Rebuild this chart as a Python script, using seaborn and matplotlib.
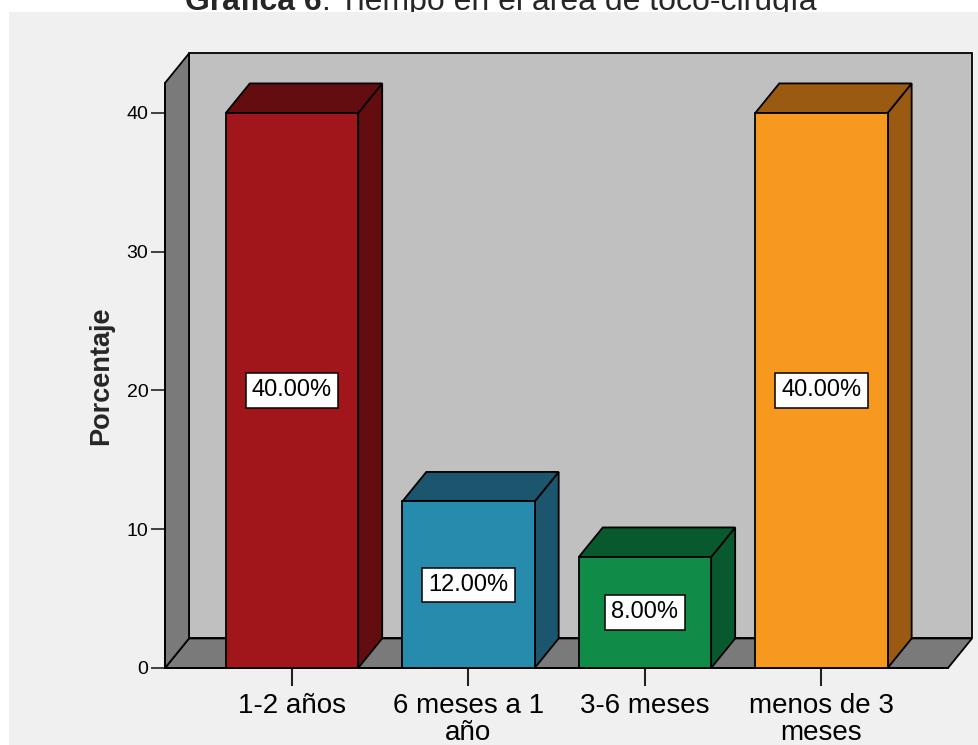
import matplotlib
matplotlib.use("Agg")
import matplotlib.pyplot as plt
from matplotlib.patches import Polygon, Rectangle
import seaborn as sns
import pandas as pd

# --- data -------------------------------------------------------------
categorias = ["1-2 años", "6 meses a 1 año", "3-6 meses", "menos de 3 meses"]
etiquetas_eje = ["1-2 años", "6 meses a 1\naño", "3-6 meses", "menos de 3\nmeses"]
porcentajes = [40.0, 12.0, 8.0, 40.0]
ticks_y = [0, 10, 20, 30, 40]
color_frente = ["#A0161A", "#268BAC", "#108C48", "#F7991F"]
color_sombra = ["#630D10", "#1B556E", "#085A2E", "#9A5A12"]
titulo_negrita = "Gráfica 6"
titulo_resto = ". Tiempo en el área de toco-cirugía"
eje_y = "Porcentaje"

sns.set_style("white")
plt.rcParams["font.family"] = ["Liberation Sans", "DejaVu Sans"]

W, H = 979, 745
fig = plt.figure(figsize=(W / 100, H / 100), dpi=100, facecolor="white")

# light gray chart panel
fig.patches.append(Rectangle((9 / W, 0), 1 - 9 / W, 1 - 12 / H,
                             transform=fig.transFigure, facecolor="#F0F0F0",
                             edgecolor="none", zorder=-1))

# plotting area (front plane of the 3D box)
px0, px1, py0, py1 = 165, 948, 83, 668
ax = fig.add_axes([px0 / W, (H - py1) / H, (px1 - px0) / W, (py1 - py0) / H])
ax.set_facecolor("none")

df = pd.DataFrame({"Tiempo": categorias, "Porcentaje": porcentajes})
sns.barplot(data=df, x="Tiempo", y="Porcentaje", hue="Tiempo",
            palette=color_frente, saturation=1, width=0.75,
            edgecolor="black", linewidth=1.3, legend=False, ax=ax)
bars = list(ax.patches)

xmin, xmax = -0.7196, 3.717
ymin, ymax = 0.0, 42.16
ax.set_xlim(xmin, xmax)
ax.set_ylim(ymin, ymax)
DX, DY = 0.136, 2.13  # depth offset of the 3D effect

wall_kw = dict(edgecolor="black", linewidth=1.3, clip_on=False)
ax.add_patch(Rectangle((xmin + DX, DY), xmax - xmin, ymax, facecolor="#C0C0C0",
                       zorder=0.2, **wall_kw))
ax.add_patch(Polygon([(xmin, 0), (xmax, 0), (xmax + DX, DY), (xmin + DX, DY)],
                     closed=True, facecolor="#7A7A7A", zorder=0.3, **wall_kw))
ax.add_patch(Polygon([(xmin, 0), (xmin + DX, DY), (xmin + DX, ymax + DY), (xmin, ymax)],
                     closed=True, facecolor="#7A7A7A", zorder=0.4, **wall_kw))

for bar, dark in zip(bars, color_sombra):
    x, w, h = bar.get_x(), bar.get_width(), bar.get_height()
    bar.set_zorder(3)
    side = Polygon([(x + w, 0), (x + w + DX, DY), (x + w + DX, h + DY), (x + w, h)],
                   closed=True, facecolor=dark, zorder=2, **wall_kw)
    top = Polygon([(x, h), (x + w, h), (x + w + DX, h + DY), (x + DX, h + DY)],
                  closed=True, facecolor=dark, zorder=2, **wall_kw)
    ax.add_patch(side)
    ax.add_patch(top)
    ax.text(x + w / 2, h / 2, f"{h:.2f}%", ha="center", va="center",
            fontsize=17, color="black", zorder=5,
            bbox=dict(boxstyle="square,pad=0.26", facecolor="white",
                      edgecolor="black", linewidth=1.1))

for s in ["top", "right"]:
    ax.spines[s].set_visible(False)
for s in ["left", "bottom"]:
    ax.spines[s].set_color("black")
    ax.spines[s].set_linewidth(1.3)

ax.set_yticks(ticks_y)
ax.set_xticks(range(len(categorias)))
ax.set_xticklabels(etiquetas_eje, linespacing=1.05)
ax.tick_params(axis="y", length=10, width=1.2, labelsize=14, pad=2,
               color="#222222", labelcolor="black", left=True)
ax.tick_params(axis="x", length=13, width=1.5, labelsize=20, pad=5,
               color="#222222", labelcolor="black", bottom=True)
ax.grid(False)
ax.set_xlabel("")
ax.set_ylabel(eje_y, fontsize=19.5, fontweight="bold")
ax.yaxis.set_label_coords((114 - px0) / (px1 - px0), 0.5)

# title: bold lead-in followed by regular text, centred as one line
renderer = fig.canvas.get_renderer()
tb = fig.text(0, 0, titulo_negrita, fontsize=23, fontweight="bold",
              va="baseline", ha="left", zorder=-2)
tr = fig.text(0, 0, titulo_resto, fontsize=23, va="baseline", ha="left", zorder=-2)
wb = tb.get_window_extent(renderer).width
wr = tr.get_window_extent(renderer).width
start = 501 - (wb + wr) / 2
ybase = 1 - 10 / H
tb.set_position((start / W, ybase))
tr.set_position(((start + wb) / W, ybase))

fig.savefig("out.png", dpi=100)
